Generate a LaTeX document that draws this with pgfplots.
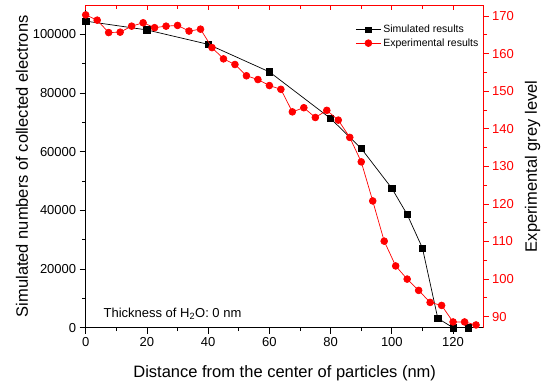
\documentclass[border=0pt]{standalone}
\usepackage{pgfplots}
\pgfplotsset{compat=1.18}
\usepackage{fontspec}
\setmainfont{Liberation Sans}
\begin{document}
\begin{tikzpicture}
\path[use as bounding box] (0pt,0pt) rectangle (543pt,383pt);
\pgfplotsset{
  common/.style={
    scale only axis, width=398pt, height=322.7pt,
    xmin=0, xmax=130,
    xtick={0,20,...,120}, minor x tick num=1,
    /pgf/number format/assume math mode=true,
    tick label style={font=\fontsize{13}{15}\selectfont},
    label style={font=\fontsize{16.5}{19}\selectfont},
  }
}
\begin{axis}[common,
  at={(85.7pt,55.3pt)}, anchor=south west,
  ymin=0, ymax=110000,
  axis x line*=bottom, axis y line*=left,
  axis line style={-, black, line width=0.8pt},
  tick align=outside,
  major tick length=6pt, minor tick length=3.5pt,
  tick style={black, line width=0.8pt},
  ytick={0,20000,...,100000}, minor y tick num=1,
  scaled y ticks=false,
  yticklabel style={/pgf/number format/fixed, /pgf/number format/1000 sep={}},
  xlabel={Distance from the center of particles (nm)},
  ylabel={Simulated numbers of collected electrons},
  xlabel shift=12pt, ylabel shift=-2pt,
]
\addplot[black, line width=0.7pt, mark=square*, mark size=3.2pt] coordinates {
(0,104500) (20,101500) (40,96600) (60,87200) (80,71300) (90,61100)
(100,47500) (105,38600) (110,27100) (115,3200) (120,0) (125,0)
};
\node[anchor=base west, font=\fontsize{13}{15}\selectfont] at (axis cs:4.7,3600) {Thickness of H\textsubscript{2}O: 0 nm};
\end{axis}
\begin{axis}[common,
  at={(85.7pt,55.3pt)}, anchor=south west,
  ymin=87.07, ymax=172.93,
  axis x line*=top, axis y line*=right,
  axis line style={-, red, line width=0.8pt},
  xticklabels={},
  tick style={red, line width=0.8pt},
  xtick align=inside, ytick align=outside,
  major tick length=5pt, minor tick length=3.5pt,
  ytick={90,100,...,170}, minor y tick num=1,
  yticklabel style={red},
  ylabel={Experimental grey level},
  ylabel shift=4pt,
  legend style={draw=none, fill=none, at={(0.675,0.948)}, anchor=north west,
    font=\fontsize{10.5}{13}\selectfont, row sep=0.5pt, inner sep=1pt},
  legend cell align=left,
  legend image code/.code={\draw[mark repeat=2,mark phase=2] plot coordinates {(0pt,0pt)(12.5pt,0pt)(25pt,0pt)};},
]
\addlegendimage{black, line width=0.7pt, mark=square*, mark size=2.6pt}
\addlegendentry{Simulated results}
\addplot[red, line width=0.7pt, mark=*, mark size=3.4pt] coordinates {
(0,170.3) (3.75,168.9) (7.5,165.6) (11.25,165.7) (15,167.3) (18.75,168.2)
(22.5,166.9) (26.25,167.3) (30,167.5) (33.75,166.0) (37.5,166.5) (41.25,161.6)
(45,158.6) (48.75,157.1) (52.5,154.1) (56.25,153.1) (60,151.5) (63.75,150.5)
(67.5,144.5) (71.25,145.6) (75,143.0) (78.75,144.9) (82.5,142.3) (86.25,137.7)
(90,131.2) (93.75,120.8) (97.5,110.1) (101.25,103.5) (105,100.0) (108.75,97.0)
(112.5,93.8) (116.25,93.0) (120,88.6) (123.75,88.6) (127.5,87.8)
};
\addlegendentry{Experimental results}
\end{axis}
\end{tikzpicture}
\end{document}
